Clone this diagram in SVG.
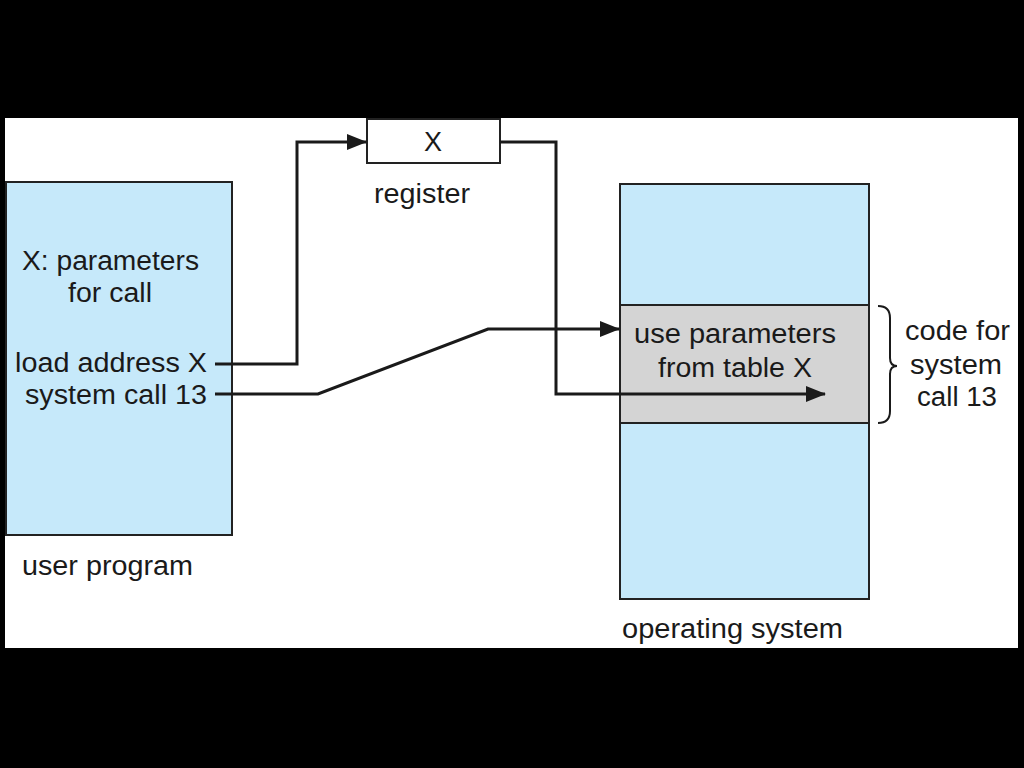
<svg xmlns="http://www.w3.org/2000/svg" width="1024" height="768" viewBox="0 0 1024 768">
<style>
.t{font-family:"Liberation Sans",Arial,sans-serif;font-size:27px;fill:#1a1a1a}
.m{text-anchor:middle}
.box{stroke:#222;stroke-width:2}
.c{fill:none;stroke:#1a1a1a;stroke-width:3}
</style>
<defs>
<marker id="ah" markerUnits="userSpaceOnUse" markerWidth="20" markerHeight="16" refX="19" refY="8" orient="auto">
<path d="M0,0 L20,8 L0,16 Z" fill="#1a1a1a"/>
</marker>
</defs>
<rect x="0" y="0" width="1024" height="768" fill="#000"/>
<rect x="5" y="118" width="1013" height="530" fill="#fff"/>
<g id="user-program">
<rect class="box" x="6" y="182" width="226" height="353" fill="#c6e9fa"/>
<text class="t" x="22" y="270" textLength="177" lengthAdjust="spacingAndGlyphs">X: parameters</text>
<text class="t" x="68" y="302" textLength="84" lengthAdjust="spacingAndGlyphs">for call</text>
<text class="t" x="15" y="372" textLength="192" lengthAdjust="spacingAndGlyphs">load address X</text>
<text class="t" x="25" y="404" textLength="182" lengthAdjust="spacingAndGlyphs">system call 13</text>
<text class="t" x="22" y="575" textLength="171" lengthAdjust="spacingAndGlyphs">user program</text>
</g>
<g id="register">
<rect class="box" x="367" y="119" width="133" height="44" fill="#fff"/>
<text class="t m" x="433" y="151">X</text>
<text class="t" x="374" y="203" textLength="96" lengthAdjust="spacingAndGlyphs">register</text>
</g>
<g id="operating-system">
<rect class="box" x="620" y="184" width="249" height="415" fill="#c6e9fa"/>
<rect class="box" x="620" y="305" width="249" height="118" fill="#d4d4d4"/>
<text class="t" x="634" y="343" textLength="202" lengthAdjust="spacingAndGlyphs">use parameters</text>
<text class="t" x="658" y="377" textLength="154" lengthAdjust="spacingAndGlyphs">from table X</text>
<text class="t" x="622" y="638" textLength="221" lengthAdjust="spacingAndGlyphs">operating system</text>
</g>
<g id="brace">
<path d="M878,306 Q890,306 890,318 L890,358 Q890,366 897,366 Q890,366 890,374 L890,411 Q890,423 878,423" fill="none" stroke="#1a1a1a" stroke-width="2"/>
<text class="t" x="905" y="340" textLength="105" lengthAdjust="spacingAndGlyphs">code for</text>
<text class="t" x="910" y="374" textLength="92" lengthAdjust="spacingAndGlyphs">system</text>
<text class="t" x="917" y="406" textLength="80" lengthAdjust="spacingAndGlyphs">call 13</text>
</g>
<g id="connectors">
<path class="c" d="M215,364 L297,364 L297,142 L366,142" marker-end="url(#ah)"/>
<path class="c" d="M215,394 L318,394 L488,329 L619,329" marker-end="url(#ah)"/>
<path class="c" d="M500,142 L556,142 L556,394 L825,394" marker-end="url(#ah)"/>
</g>
</svg>
